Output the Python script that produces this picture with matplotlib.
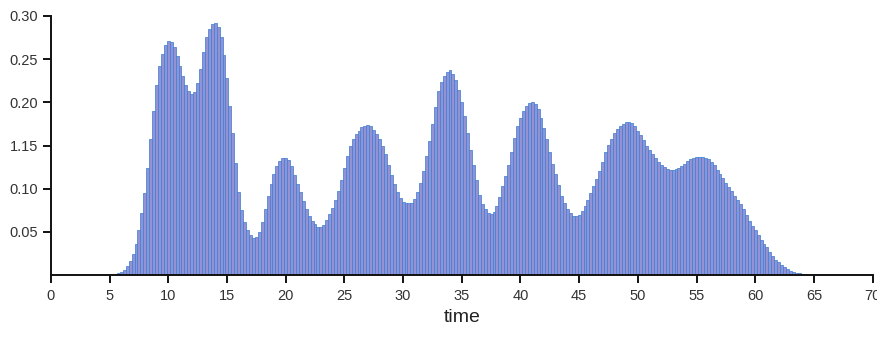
import matplotlib
matplotlib.use("Agg")
import matplotlib.pyplot as plt
import numpy as np

plt.rcParams['font.family'] = ['Liberation Sans', 'DejaVu Sans']

# bar positions (time) and heights, one bar every 0.25 time units
time_start = 5.0
bar_step = 0.25
values = [
    0.0003, 0.0006, 0.0012, 0.0025, 0.004, 0.006, 0.010, 0.016,          # 5.00-6.75
    0.025, 0.036, 0.052, 0.072, 0.095, 0.124, 0.158, 0.190,              # 7.00-8.75
    0.220, 0.242, 0.256, 0.266, 0.271, 0.270, 0.264, 0.254,              # 9.00-10.75
    0.242, 0.230, 0.220, 0.213, 0.210, 0.212, 0.222, 0.238,              # 11.00-12.75
    0.258, 0.275, 0.285, 0.291, 0.292, 0.287, 0.276, 0.255,              # 13.00-14.75
    0.228, 0.196, 0.165, 0.130, 0.096, 0.075, 0.062, 0.052,              # 15.00-16.75
    0.046, 0.043, 0.044, 0.050, 0.062, 0.077, 0.092, 0.106,              # 17.00-18.75
    0.117, 0.126, 0.132, 0.135, 0.136, 0.133, 0.126, 0.116,              # 19.00-20.75
    0.106, 0.096, 0.086, 0.077, 0.069, 0.063, 0.059, 0.056,              # 21.00-22.75
    0.056, 0.058, 0.064, 0.071, 0.078, 0.087, 0.097, 0.110,              # 23.00-24.75
    0.124, 0.138, 0.149, 0.157, 0.163, 0.167, 0.171, 0.173,              # 25.00-26.75
    0.174, 0.172, 0.168, 0.163, 0.157, 0.150, 0.140, 0.128,              # 27.00-28.75
    0.116, 0.105, 0.096, 0.089, 0.085, 0.083, 0.083, 0.084,              # 29.00-30.75
    0.088, 0.096, 0.107, 0.120, 0.138, 0.155, 0.175, 0.195,              # 31.00-32.75
    0.213, 0.224, 0.231, 0.235, 0.237, 0.233, 0.226, 0.214,              # 33.00-34.75
    0.200, 0.184, 0.165, 0.145, 0.127, 0.110, 0.093, 0.082,              # 35.00-36.75
    0.076, 0.072, 0.071, 0.073, 0.080, 0.090, 0.103, 0.115,              # 37.00-38.75
    0.127, 0.143, 0.159, 0.172, 0.182, 0.190, 0.196, 0.199,              # 39.00-40.75
    0.200, 0.198, 0.192, 0.182, 0.170, 0.157, 0.142, 0.129,              # 41.00-42.75
    0.117, 0.104, 0.092, 0.083, 0.076, 0.072, 0.069, 0.068,              # 43.00-44.75
    0.070, 0.074, 0.080, 0.087, 0.095, 0.103, 0.111, 0.120,              # 45.00-46.75
    0.131, 0.142, 0.151, 0.158, 0.164, 0.169, 0.172, 0.175,              # 47.00-48.75
    0.177, 0.177, 0.176, 0.172, 0.167, 0.162, 0.156, 0.150,              # 49.00-50.75
    0.145, 0.140, 0.135, 0.131, 0.128, 0.125, 0.123, 0.122,              # 51.00-52.75
    0.122, 0.123, 0.124, 0.126, 0.129, 0.132, 0.134, 0.136,              # 53.00-54.75
    0.137, 0.137, 0.137, 0.136, 0.134, 0.131, 0.127, 0.122,              # 55.00-56.75
    0.117, 0.112, 0.107, 0.102, 0.097, 0.092, 0.087, 0.082,              # 57.00-58.75
    0.077, 0.070, 0.063, 0.057, 0.052, 0.046, 0.041, 0.036,              # 59.00-60.75
    0.032, 0.027, 0.022, 0.018, 0.015, 0.012, 0.009, 0.007,              # 61.00-62.75
    0.005, 0.0038, 0.0028, 0.002, 0.0015, 0.001, 0.0007, 0.0004,         # 63.00-64.75
    0.0002,                                                              # 65.00
]
times = [time_start + i * bar_step for i in range(len(values))]

x_ticks = list(range(0, 71, 5))
y_ticks = [0.05, 0.10, 0.15, 0.20, 0.25, 0.30]
y_tick_labels = ["0.05", "0.10", "1.15", "0.20", "0.25", "0.30"]
x_label = "time"

fig = plt.figure(figsize=(8.77, 3.38), dpi=100)
ax = fig.add_axes([0.058, 0.186, 0.937, 0.767])

ax.bar(times, values, width=bar_step, align='center',
       color='#9592d4', edgecolor='#3f82d8', linewidth=0.55)

ax.set_xlim(0, 70)
ax.set_ylim(0, 0.30)
ax.set_xticks(x_ticks)
ax.set_xticklabels([str(t) for t in x_ticks])
ax.set_yticks(y_ticks)
ax.set_yticklabels(y_tick_labels)

for side in ['top', 'right']:
    ax.spines[side].set_visible(False)
for side in ['left', 'bottom']:
    ax.spines[side].set_linewidth(1.4)
    ax.spines[side].set_color('#111111')

ax.tick_params(axis='both', direction='out', length=6, width=1.4,
               colors='#111111', labelsize=10.5, labelcolor='#333333')
ax.tick_params(axis='x', pad=4)
ax.tick_params(axis='y', pad=3)

ax.set_xlabel(x_label, fontsize=14, color='#222222', labelpad=4)

fig.savefig("out.png", dpi=100)
